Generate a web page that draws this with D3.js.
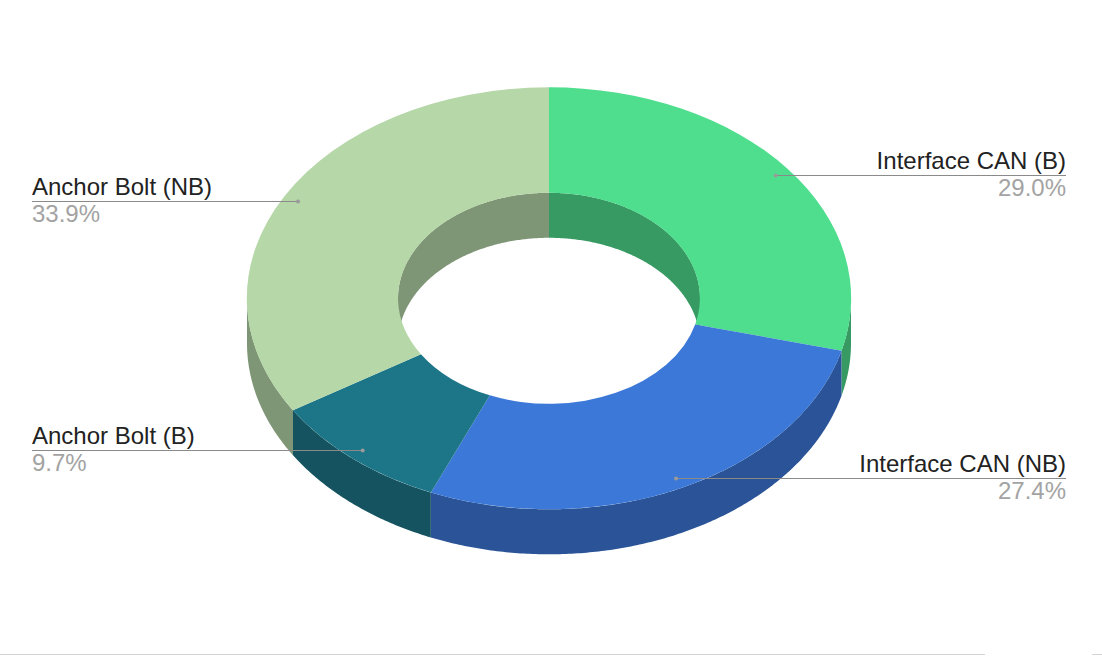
<!DOCTYPE html>
<html>
<head>
<meta charset="utf-8">
<style>
html,body{margin:0;padding:0;background:#fff;overflow:hidden}
svg{display:block}
text{font-family:"Liberation Sans",Arial,sans-serif}
</style>
<script src="https://cdn.jsdelivr.net/npm/d3@7"></script>
</head>
<body>
<svg id="c" width="1102" height="656"></svg>
<script>
const categories = ["Interface CAN (B)", "Interface CAN (NB)", "Anchor Bolt (B)", "Anchor Bolt (NB)"];
const values = [29.0, 27.4, 9.7, 33.9];
const topColors = ["#4fdd8e", "#3c78d8", "#1c7688", "#b6d7a8"];
const wallColors = ["#379a63", "#2a5497", "#14535f", "#7f9676"];

const W = 1102, H = 656;
const cx = 549, cy = 298.3, rx = 302, ry = 211, depth = 45, holeRatio = 0.5, labelRadius = 0.95;
const fontSize = 24;
const leftX = 32, rightX = 1066;

const svg = d3.select("#c");
const pie = d3.pie().sort(null).value(d => d);
const slices = pie(values);
const px = d3.scaleLinear().domain([-1, 1]).range([cx - rx, cx + rx]);
const py = d3.scaleLinear().domain([-1, 1]).range([cy - ry, cy + ry]);
const pt = (a, r, dy) => [px(r * Math.sin(a)), py(-r * Math.cos(a)) + dy];

// walls: band between the ellipse edge and the same edge shifted down
function wall(a0, a1, r) {
  const n = Math.max(2, Math.ceil((a1 - a0) / 0.01));
  const as = d3.range(n + 1).map(i => a0 + (a1 - a0) * i / n);
  const line = d3.line();
  return line(as.map(a => pt(a, r, 0)).concat(as.slice().reverse().map(a => pt(a, r, depth)))) + "Z";
}

const g = svg.append("g");
// inner wall (back half of the hole)
slices.forEach((s, i) => {
  const mid0 = Math.max(s.startAngle, 0), mid1 = Math.min(s.endAngle, Math.PI / 2);
  if (mid1 > mid0) g.append("path").attr("d", wall(mid0, mid1, holeRatio)).attr("fill", wallColors[i]);
  const l0 = Math.max(s.startAngle, 1.5 * Math.PI), l1 = Math.min(s.endAngle, 2 * Math.PI);
  if (l1 > l0) g.append("path").attr("d", wall(l0, l1, holeRatio)).attr("fill", wallColors[i]);
});
// outer wall (front half)
slices.forEach((s, i) => {
  const a0 = Math.max(s.startAngle, Math.PI / 2), a1 = Math.min(s.endAngle, 1.5 * Math.PI);
  if (a1 > a0) g.append("path").attr("d", wall(a0, a1, 1)).attr("fill", wallColors[i]);
});
// top face
const arc = d3.arc().innerRadius(holeRatio).outerRadius(1);
g.append("g")
  .attr("transform", `translate(${cx},${cy}) scale(${rx},${ry})`)
  .selectAll("path").data(slices).join("path")
  .attr("d", arc)
  .attr("fill", (d, i) => topColors[i]);

// leaders and labels
slices.forEach((s, i) => {
  const a = (s.startAngle + s.endAngle) / 2;
  const [x, y] = pt(a, labelRadius, 0);
  const right = Math.sin(a) > 0;
  const yy = Math.floor(y + 0.05) + 0.5;
  const tx = right ? rightX : leftX;
  const anchor = right ? "end" : "start";
  svg.append("line").attr("x1", tx).attr("x2", x).attr("y1", yy).attr("y2", yy)
    .attr("stroke", "#8a8a8a").attr("stroke-width", 1);
  svg.append("circle").attr("cx", x).attr("cy", yy).attr("r", 2).attr("fill", "#9a9a9a");
  svg.append("text").attr("x", tx).attr("y", yy - 6.5).attr("text-anchor", anchor)
    .attr("font-size", fontSize).attr("fill", "#222").text(categories[i]);
  svg.append("text").attr("x", tx).attr("y", yy + 20.5).attr("text-anchor", anchor)
    .attr("font-size", fontSize).attr("fill", "#a3a3a3").text(d3.format(".1f")(values[i]) + "%");
});

// thin rule along the lower edge of the picture
svg.append("line").attr("x1", 0).attr("x2", 985).attr("y1", 654.5).attr("y2", 654.5)
  .attr("stroke", "#d4d4d4").attr("stroke-width", 1);
svg.append("line").attr("x1", 1092).attr("x2", W).attr("y1", 654.5).attr("y2", 654.5)
  .attr("stroke", "#d4d4d4").attr("stroke-width", 1);
</script>
</body>
</html>
